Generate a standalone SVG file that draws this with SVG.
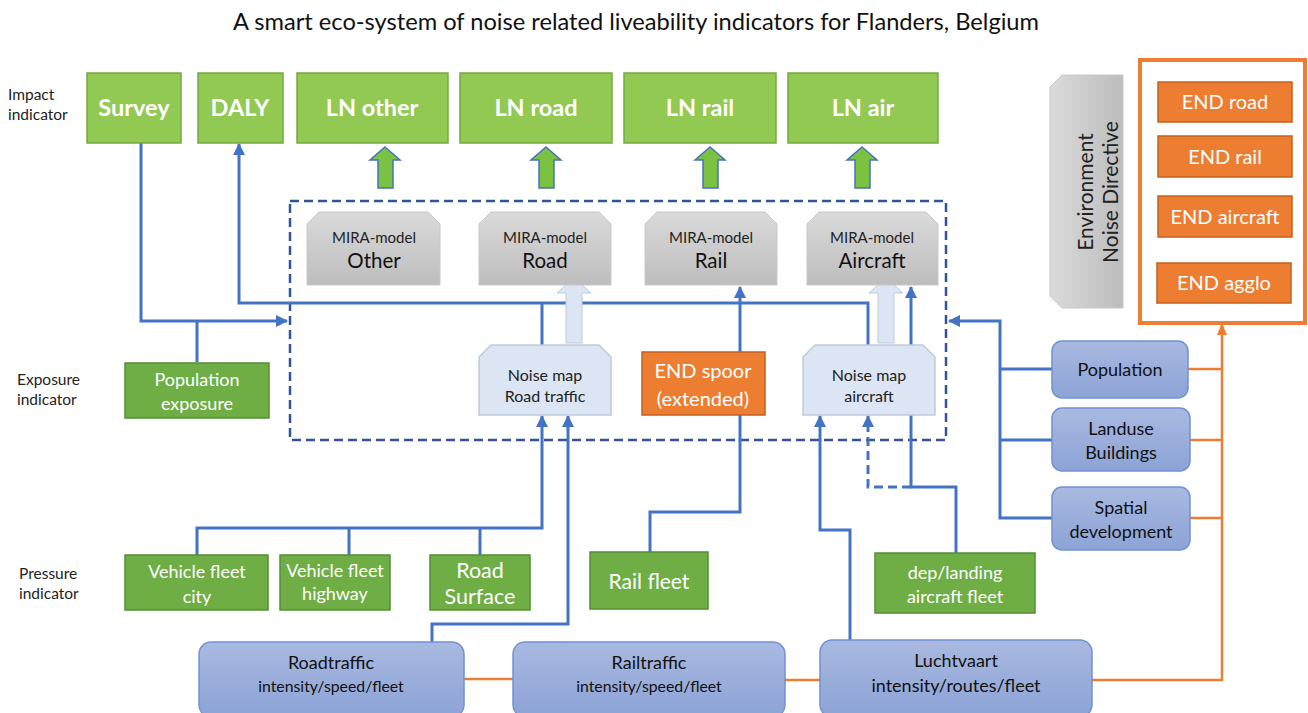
<svg xmlns="http://www.w3.org/2000/svg" width="1308" height="713" viewBox="0 0 1308 713">
<style>
text{font-family:Lato,"Open Sans","Liberation Sans",sans-serif;text-anchor:middle}
.lbl{font-size:15.5px;fill:#222;text-anchor:start}
.g1{fill:#92c953;stroke:#74a93f;stroke-width:1.5}
.g1t{font-size:23.5px;font-weight:bold;fill:#fff}
.g2{fill:#6fae45;stroke:#548f36;stroke-width:1.5}
.g2t{font-size:18px;fill:#fff}
.mira{fill:url(#gray);stroke:#c8c8c8;stroke-width:1}
.mt1{font-size:15px;fill:#222}
.mt2{font-size:20.5px;fill:#111}
.nm{fill:#dce5f3;stroke:#bfcadb;stroke-width:1.5}
.nmt{font-size:16px;fill:#222}
.or{fill:#ed7d31;stroke:#c2601f;stroke-width:1.5}
.ort{font-size:20px;fill:#fff}
.bl{fill:url(#blue);stroke:#7191d0;stroke-width:1.5}
.blt{font-size:18px;fill:#111}
.bls{font-size:15.8px;fill:#111}
.ln{fill:none;stroke:#4472c4;stroke-width:3}
.lno{fill:none;stroke:#ed7d31;stroke-width:2.5}
</style>
<defs>
<linearGradient id="gray" x1="0" y1="0" x2="0" y2="1"><stop offset="0" stop-color="#dadada"/><stop offset="1" stop-color="#bdbdbd"/></linearGradient>
<linearGradient id="grayh" x1="0" y1="0" x2="1" y2="0"><stop offset="0" stop-color="#dadada"/><stop offset="1" stop-color="#bdbdbd"/></linearGradient>
<linearGradient id="blue" x1="0" y1="0" x2="0" y2="1"><stop offset="0" stop-color="#a9b9e1"/><stop offset="1" stop-color="#8ca3d6"/></linearGradient>
<marker id="ab" markerUnits="userSpaceOnUse" markerWidth="12" markerHeight="12" viewBox="0 0 12 12" refX="11" refY="6" orient="auto"><path d="M0,0 L12,6 L0,12 z" fill="#4472c4"/></marker>
<marker id="ao" markerUnits="userSpaceOnUse" markerWidth="12" markerHeight="12" viewBox="0 0 12 12" refX="11" refY="6" orient="auto"><path d="M0,1 L12,6 L0,11 z" fill="#ed7d31"/></marker>
</defs>
<rect width="1308" height="713" fill="#fff"/>
<text x="636" y="30" textLength="806" lengthAdjust="spacingAndGlyphs" style="font-size:23px;fill:#111">A smart eco-system of noise related liveability indicators for Flanders, Belgium</text>
<g id="labels">
<text class="lbl" x="8" y="100">Impact</text><text class="lbl" x="8" y="120">indicator</text>
<text class="lbl" x="17" y="385">Exposure</text><text class="lbl" x="17" y="405">indicator</text>
<text class="lbl" x="19" y="579">Pressure</text><text class="lbl" x="19" y="599">indicator</text>
</g>
<g id="connectors">
<rect x="290" y="201" width="656" height="239" fill="none" stroke="#2f5597" stroke-width="2.5" stroke-dasharray="9,5"/>
<path class="ln" d="M141 143 V321 H287" marker-end="url(#ab)"/>
<path class="ln" d="M197 362 V321"/>
<path class="ln" d="M868 345 V303 H239 V144" marker-end="url(#ab)"/>
<path class="ln" d="M542 345 V303"/>
<path class="ln" d="M740 352 V287" marker-end="url(#ab)"/>
<path class="ln" d="M911 345 V287" marker-end="url(#ab)"/>
<path class="ln" d="M1052 369 H1000 M1052 440 H1000"/>
<path class="ln" d="M1052 518 H1000 V321 H949" marker-end="url(#ab)"/>
<path class="ln" d="M197 555 V528 H542 V416" marker-end="url(#ab)"/>
<path class="ln" d="M349 555 V528 M480 555 V528"/>
<path class="ln" d="M432 642 V624 H568 V416" marker-end="url(#ab)"/>
<path class="ln" d="M650 552 V512 H740 V415"/>
<path class="ln" d="M850 640 V530 H820 V416" marker-end="url(#ab)"/>
<path class="ln" d="M956 553 V487 H911 V415"/>
<path class="ln" d="M911 487 H868 V416" stroke-dasharray="9,5" marker-end="url(#ab)"/>
<path class="lno" d="M464 679 H513 M785 680 H820 M1188 369 H1222 M1190 440 H1222 M1190 518 H1222"/>
<path class="lno" d="M1092 680 H1222 V324" stroke-width="3.5" marker-end="url(#ao)"/>
<path d="M385 147 L400 160 L393 160 L393 188 L378 188 L378 160 L370 160 Z" fill="#7cc242" stroke="#4472c4" stroke-width="1.5"/>
<path d="M546 147 L561 160 L554 160 L554 188 L539 188 L539 160 L531 160 Z" fill="#7cc242" stroke="#4472c4" stroke-width="1.5"/>
<path d="M710 147 L725 160 L718 160 L718 188 L703 188 L703 160 L695 160 Z" fill="#7cc242" stroke="#4472c4" stroke-width="1.5"/>
<path d="M862 147 L877 160 L870 160 L870 188 L855 188 L855 160 L847 160 Z" fill="#7cc242" stroke="#4472c4" stroke-width="1.5"/>
<path d="M574 278 L591 293 L582 293 L582 343 L566 343 L566 293 L557 293 Z" fill="#dce5f3" stroke="#bfcadb" stroke-width="1"/>
<path d="M886 278 L903 293 L894 293 L894 343 L878 343 L878 293 L869 293 Z" fill="#dce5f3" stroke="#bfcadb" stroke-width="1"/>
</g>
<g id="survey"><rect class="g1" x="87" y="73" width="94" height="70"/><text class="g1t" x="134" y="116">Survey</text></g>
<g id="daly"><rect class="g1" x="198" y="73" width="85" height="70"/><text class="g1t" x="240" y="116">DALY</text></g>
<g id="ln-other"><rect class="g1" x="297" y="73" width="151" height="70"/><text class="g1t" x="372" y="116">LN other</text></g>
<g id="ln-road"><rect class="g1" x="460" y="73" width="152" height="70"/><text class="g1t" x="536" y="116">LN road</text></g>
<g id="ln-rail"><rect class="g1" x="624" y="73" width="152" height="70"/><text class="g1t" x="700" y="116">LN rail</text></g>
<g id="ln-air"><rect class="g1" x="788" y="73" width="150" height="70"/><text class="g1t" x="863" y="116">LN air</text></g>
<g id="mira-other"><path class="mira" d="M319 212 H428 L440 224 V285 H307 V224 Z"/><text class="mt1" x="374" y="243">MIRA-model</text><text class="mt2" x="374" y="268">Other</text></g>
<g id="mira-road"><path class="mira" d="M491 212 H599 L611 224 V285 H479 V224 Z"/><text class="mt1" x="545" y="243">MIRA-model</text><text class="mt2" x="545" y="268">Road</text></g>
<g id="mira-rail"><path class="mira" d="M657 212 H765 L777 224 V285 H645 V224 Z"/><text class="mt1" x="711" y="243">MIRA-model</text><text class="mt2" x="711" y="268">Rail</text></g>
<g id="mira-aircraft"><path class="mira" d="M819 212 H926 L938 224 V285 H807 V224 Z"/><text class="mt1" x="872" y="243">MIRA-model</text><text class="mt2" x="872" y="268">Aircraft</text></g>
<g id="noise-road"><path class="nm" d="M491 345 H599 L611 357 V415 H479 V357 Z"/><text class="nmt" x="545" y="381">Noise map</text><text class="nmt" x="545" y="402">Road traffic</text></g>
<g id="end-spoor"><rect class="or" x="642" y="352" width="123" height="63"/><text class="ort" x="703" y="378">END spoor</text><text class="ort" x="703" y="406">(extended)</text></g>
<g id="noise-air"><path class="nm" d="M815 345 H923 L935 357 V415 H803 V357 Z"/><text class="nmt" x="869" y="381">Noise map</text><text class="nmt" x="869" y="402">aircraft</text></g>
<g id="pop-exposure"><rect class="g2" x="125" y="363" width="144" height="55"/><text class="g2t" x="197" y="386">Population</text><text class="g2t" x="197" y="410">exposure</text></g>
<g id="vf-city"><rect class="g2" x="125" y="555" width="143" height="55"/><text class="g2t" x="197" y="578">Vehicle fleet</text><text class="g2t" x="197" y="603">city</text></g>
<g id="vf-highway"><rect class="g2" x="280" y="555" width="110" height="55"/><text class="g2t" x="335" y="577">Vehicle fleet</text><text class="g2t" x="335" y="600">highway</text></g>
<g id="road-surface"><rect class="g2" x="430" y="555" width="100" height="55"/><text class="g2t" x="480" y="578" style="font-size:21.5px">Road</text><text class="g2t" x="480" y="604" style="font-size:21.5px">Surface</text></g>
<g id="rail-fleet"><rect class="g2" x="590" y="552" width="118" height="57"/><text class="g2t" x="649" y="589" style="font-size:21px">Rail fleet</text></g>
<g id="dep-landing"><rect class="g2" x="875" y="553" width="160" height="60"/><text class="g2t" x="955" y="579">dep/landing</text><text class="g2t" x="955" y="603">aircraft fleet</text></g>
<g id="roadtraffic"><rect class="bl" x="199" y="642" width="265" height="75" rx="12"/><text class="blt" x="331" y="669">Roadtraffic</text><text class="bls" x="331" y="692">intensity/speed/fleet</text></g>
<g id="railtraffic"><rect class="bl" x="513" y="642" width="272" height="75" rx="12"/><text class="blt" x="649" y="669">Railtraffic</text><text class="bls" x="649" y="692">intensity/speed/fleet</text></g>
<g id="luchtvaart"><rect class="bl" x="820" y="640" width="272" height="77" rx="12"/><text class="blt" x="956" y="667">Luchtvaart</text><text class="blt" x="956" y="692">intensity/routes/fleet</text></g>
<g id="population"><rect class="bl" x="1052" y="341" width="136" height="57" rx="10"/><text class="blt" x="1120" y="376">Population</text></g>
<g id="landuse"><rect class="bl" x="1052" y="408" width="138" height="63" rx="10"/><text class="blt" x="1121" y="435">Landuse</text><text class="blt" x="1121" y="459">Buildings</text></g>
<g id="spatial"><rect class="bl" x="1052" y="487" width="138" height="63" rx="10"/><text class="blt" x="1121" y="514">Spatial</text><text class="blt" x="1121" y="538">development</text></g>
<g id="end-directive"><path d="M1062 75 H1123 V308 H1062 L1050 296 V87 Z" fill="url(#grayh)" stroke="#c8c8c8" stroke-width="1"/><text transform="translate(1093 192) rotate(-90)" style="font-size:21px;fill:#222">Environment</text><text transform="translate(1118 192) rotate(-90)" style="font-size:21px;fill:#222">Noise Directive</text></g>
<g id="end-group"><rect x="1140" y="60" width="165" height="263" fill="#fff" stroke="#ed7d31" stroke-width="4"/></g>
<g id="end-road"><rect class="or" x="1158" y="82" width="134" height="40"/><text class="ort" x="1225" y="109">END road</text></g>
<g id="end-rail"><rect class="or" x="1158" y="136" width="134" height="41"/><text class="ort" x="1225" y="164">END rail</text></g>
<g id="end-aircraft"><rect class="or" x="1158" y="196" width="134" height="41"/><text class="ort" x="1225" y="224">END aircraft</text></g>
<g id="end-agglo"><rect class="or" x="1157" y="263" width="134" height="40"/><text class="ort" x="1224" y="290">END agglo</text></g>
</svg>
